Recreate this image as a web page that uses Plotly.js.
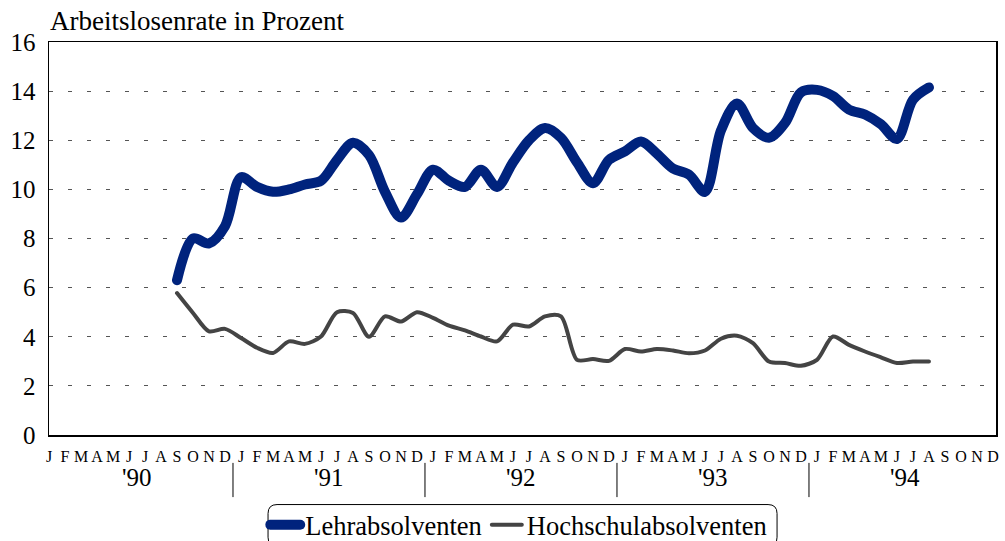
<!DOCTYPE html>
<html>
<head>
<meta charset="utf-8">
<script src="https://cdn.plot.ly/plotly-3.0.1.min.js"></script>
<style>
  html, body { margin: 0; padding: 0; background: #fff; }
  #chart { width: 1005px; height: 541px; }
  .scatterlayer path.js-line, .legend path.js-line { stroke-linecap: round; stroke-linejoin: round; }
</style>
</head>
<body>
<div id="chart"></div>
<script>
// ---- data (monthly, Sep 1990 .. Aug 1994) ----
const periods = [
  "1990-09","1990-10","1990-11","1990-12",
  "1991-01","1991-02","1991-03","1991-04","1991-05","1991-06","1991-07","1991-08","1991-09","1991-10","1991-11","1991-12",
  "1992-01","1992-02","1992-03","1992-04","1992-05","1992-06","1992-07","1992-08","1992-09","1992-10","1992-11","1992-12",
  "1993-01","1993-02","1993-03","1993-04","1993-05","1993-06","1993-07","1993-08","1993-09","1993-10","1993-11","1993-12",
  "1994-01","1994-02","1994-03","1994-04","1994-05","1994-06","1994-07","1994-08"
];
const lehrabsolventen = [
  6.3, 8.0, 7.8, 8.5,
  10.5, 10.1, 9.9, 10.0, 10.2, 10.35, 11.2, 11.9, 11.4, 9.9, 8.85, 9.8,
  10.8, 10.35, 10.1, 10.8, 10.1, 11.1, 12.0, 12.5, 12.1, 11.1, 10.25, 11.2,
  11.55, 11.95, 11.45, 10.85, 10.6, 9.9, 12.4, 13.5, 12.5, 12.1, 12.7, 13.95,
  14.05, 13.8, 13.25, 13.05, 12.65, 12.05, 13.65, 14.15
];
const hochschulabsolventen = [
  5.78, 4.97, 4.22, 4.32,
  3.95, 3.55, 3.34, 3.81, 3.71, 4.01, 5.0, 4.97, 4.0, 4.83, 4.62, 5.0,
  4.77, 4.45, 4.26, 4.01, 3.81, 4.49, 4.42, 4.83, 4.83, 3.06, 3.09, 3.02,
  3.5, 3.4, 3.5, 3.44, 3.33, 3.44, 3.92, 4.04, 3.74, 2.99, 2.93, 2.82,
  3.06, 4.01, 3.67, 3.4, 3.16, 2.93, 2.99, 2.99
];
const monthLetters = ["J","F","M","A","M","J","J","A","S","O","N","D"];
const years = [1990, 1991, 1992, 1993, 1994];
const yearLabels = ["'90", "'91", "'92", "'93", "'94"];
const seriesNames = ["Lehrabsolventen", "Hochschulabsolventen"];

// month index: 0 = Jan 1990
function monthIndex(p) {
  const [y, m] = p.split("-").map(Number);
  return (y - years[0]) * 12 + (m - 1);
}
const xIdx = periods.map(monthIndex);

const tickvals = [], ticktext = [];
years.forEach((y, yi) => monthLetters.forEach((l, mi) => {
  tickvals.push(yi * 12 + mi); ticktext.push(l);
}));

const serif = "Liberation Serif, Times New Roman, serif";

const traces = [
  {
    x: xIdx, y: lehrabsolventen, name: seriesNames[0], type: "scatter", mode: "lines",
    line: { color: "#00237d", width: 10, shape: "spline", smoothing: 0.9 }
  },
  {
    x: xIdx, y: hochschulabsolventen, name: seriesNames[1], type: "scatter", mode: "lines",
    line: { color: "#444444", width: 4, shape: "spline", smoothing: 0.8 }
  }
];

const annotations = years.map((y, i) => ({
  x: i * 12 + 5.5, xref: "x", y: -0.107, yref: "paper",
  text: yearLabels[i], showarrow: false, xanchor: "center", yanchor: "middle",
  font: { family: serif, size: 25, color: "#000" }
}));

const shapes = years.slice(1).map((y, i) => ({
  type: "line", xref: "x", yref: "paper",
  x0: (i + 1) * 12 - 0.5, x1: (i + 1) * 12 - 0.5, y0: -0.071, y1: -0.158,
  line: { color: "#000", width: 1 }
}));

// rounded legend frame (paper coordinates)
(function () {
  const x0 = 0.2313, x1 = 0.7688, y0 = -0.177, y1 = -0.283;
  const rx = 9 / 947, ry = 9 / 393;
  const path = `M ${x0 + rx},${y0} L ${x1 - rx},${y0} Q ${x1},${y0} ${x1},${y0 - ry} ` +
    `L ${x1},${y1 + ry} Q ${x1},${y1} ${x1 - rx},${y1} L ${x0 + rx},${y1} ` +
    `Q ${x0},${y1} ${x0},${y1 + ry} L ${x0},${y0 - ry} Q ${x0},${y0} ${x0 + rx},${y0} Z`;
  shapes.push({ type: "path", xref: "paper", yref: "paper", path: path,
    line: { color: "#000", width: 1 }, fillcolor: "rgba(0,0,0,0)" });
})();

const layout = {
  width: 1005, height: 541,
  margin: { l: 49, r: 9, t: 42, b: 106, autoexpand: false },
  paper_bgcolor: "#fff", plot_bgcolor: "#fff",
  font: { family: serif, color: "#000" },
  title: {
    text: "Arbeitslosenrate in Prozent",
    xref: "container", yref: "container",
    x: 50 / 1005, xanchor: "left",
    y: 1 - 21 / 541, yanchor: "middle",
    font: { family: serif, size: 27, color: "#000" }
  },
  xaxis: {
    range: [0, 59.19], tickmode: "array", tickvals: tickvals, ticktext: ticktext,
    tickangle: 0,
    showgrid: false, zeroline: false, ticks: "", ticklabelstandoff: 6,
    showline: true, linecolor: "#000", linewidth: 1.5, mirror: true,
    tickfont: { family: serif, size: 16, color: "#000" }, fixedrange: true
  },
  yaxis: {
    range: [0, 16], dtick: 2, tick0: 0,
    showgrid: true, gridcolor: "#555", gridwidth: 1, griddash: "4px,15px",
    zeroline: false, ticks: "", ticklabelstandoff: 7,
    showline: true, linecolor: "#000", linewidth: 1.5, mirror: true,
    tickfont: { family: serif, size: 25, color: "#000" }, fixedrange: true
  },
  showlegend: true,
  legend: {
    orientation: "h", x: 0.496, xanchor: "center", y: -0.168, yanchor: "top",
    font: { family: serif, size: 26.5, color: "#000" },
    bgcolor: "rgba(0,0,0,0)", borderwidth: 0, itemwidth: 30, tracegroupgap: 0
  },
  annotations: annotations,
  shapes: shapes
};

Plotly.newPlot("chart", traces, layout, { displayModeBar: false, staticPlot: true });
</script>
</body>
</html>
